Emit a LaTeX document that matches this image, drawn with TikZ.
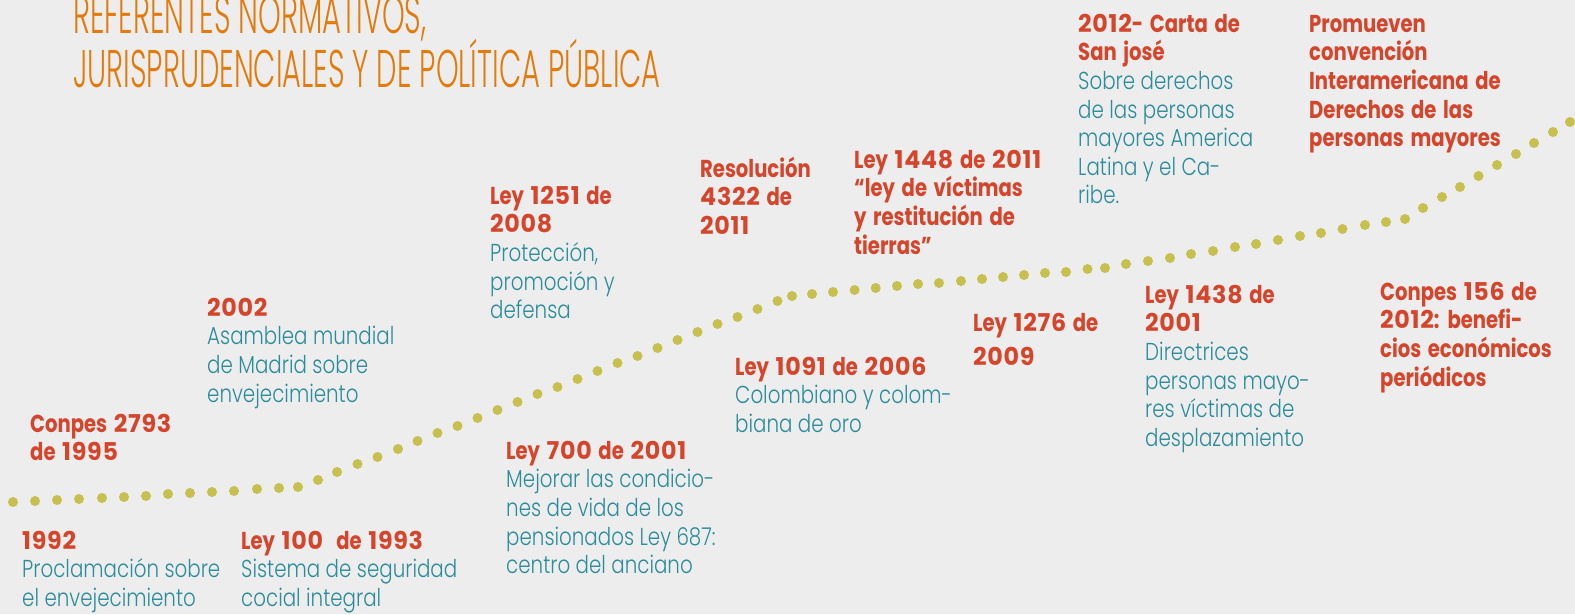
\documentclass[tikz,border=0pt]{standalone}
\usepackage{fontspec}
\newfontfamily\redfont{Poppins Bold}[FakeStretch=0.8,WordSpace=1.6]
\newfontfamily\reddigits{Poppins Bold}[FakeStretch=0.97,LetterSpace=3]
\newfontfamily\tealfont{Poppins Light}[FakeStretch=0.81]
\newfontfamily\titlefont{Poppins Light}[FakeStretch=0.545]
\definecolor{bgc}{HTML}{EDEDED}
\definecolor{redc}{HTML}{D5452B}
\definecolor{tealc}{HTML}{2B8C9C}
\definecolor{orangec}{HTML}{E27B0C}
\definecolor{dotc}{HTML}{C7BF4E}
\newcommand\R{\redfont\color{redc}}
\newcommand\T{\tealfont\color{tealc}}
\newcommand\D[1]{{\reddigits #1}}
\newcommand\FS{\rule{0pt}{22pt}}
\begin{document}
\begin{tikzpicture}[x=1pt,y=-1pt,
  blk/.style={anchor=north west, inner sep=0pt, align=left, font=\fontsize{24.5}{28.6}\selectfont},
  ttl/.style={anchor=base west, inner sep=0pt, text=orangec, font=\titlefont\fontsize{53}{54}\selectfont},
  dotmark/.style={fill=dotc}]
\useasboundingbox (0,0) rectangle (1575,614);
\fill[bgc] (0,0) rectangle (1575,614);
\node[ttl] (t1) at (73,33) {REFERENTES NORMATIVOS,};
\node[ttl] (t2) at (73,87) {JURISPRUDENCIALES Y DE POLÍTICA PÚBLICA};
\foreach \x/\y in {13/502,35/501,57/500,79/499,102/498,124/497,146/496,168/494,190/493,212/492,234/491,257/489,279/488,298/487,
  318/480,337/472,357.5/464,377.5/457,398/449,417.5/441,437.5/433,457.5/426,477.5/418,497.5/410,517.5/402,537.5/394,557.5/387,577.5/379,597.5/371,617.5/363,637.5/356,657.5/348,677.5/340,697.5/332,717.5/324,737.5/317,757.5/309,777.5/301,792/296,
  812/294,833/292,854.6/290,875.7/288,897/286,918/284,939/283,961/281,982/279,1003/277,1024/275,1045/273,1066/272,1087.5/269,1105/268,
  1126/264,1148/261,1170/258,1191/254,1213/251,1235/247,1256/244,1278/240,1300/236,1321/233,1342.5/229,1365/225,1386/222,1405/219,
  1423/208,1442/197,1460/187,1478.5/176,1497/165,1516/154,1534/143,1553/132,1570/122}
  \fill[dotmark] (\x,\y) circle[radius=5pt];
\node[blk] (b1992) at (22,527) {\FS\R\D{1992}\\\T Proclamación sobre\\\T el envejecimiento};
\node[blk] (bley100) at (241,527) {\FS\R Ley \D{100}\ \ de \D{1993}\\\T Sistema de seguridad\\\T cocial integral};
\node[blk] (bconpes) at (30,410) {\FS\R Conpes \D{2793}\\\R de \D{1995}};
\node[blk] (b2002) at (207,294) {\FS\R\D{2002}\\\T Asamblea mundial\\\T de Madrid sobre\\\T envejecimiento};
\node[blk] (b1251) at (490,182) {\FS\R Ley \D{1251} de\\\R\D{2008}\\\T Protección,\\\T promoción y\\\T defensa};
\node[blk] (bres) at (700,155) {\FS\R Resolución\\\R\D{4322} de\\\R\D{2011}};
\node[blk] (b1448) at (854,146) {\FS\R Ley \D{1448} de \D{2011}\\\R “ley de víctimas\\\R y restitución de\\\R tierras”};
\node[blk] (bcarta) at (1078,10) {\FS\R\D{2012}- Carta de\\\R San josé\\\T Sobre derechos\\\T de las personas\\\T mayores America\\\T Latina y el Ca-\\\T ribe.};
\node[blk] (bprom) at (1309,10) {\FS\R Promueven\\\R convención\\\R Interamericana de\\\R Derechos de las\\\R personas mayores};
\node[blk] (b1091) at (735,353) {\FS\R Ley \D{1091} de \D{2006}\\\T Colombiano y colom-\\\T biana de oro};
\node[blk] (b700) at (506,437) {\FS\R Ley \D{700} de \D{2001}\\\T Mejorar las condicio-\\\T nes de vida de los\\\T pensionados Ley 687:\\\T centro del anciano};
\node[blk] (b1276) at (973,309) {\FS\R Ley \D{1276} de\\[5.5pt]\R\D{2009}};
\node[blk] (b1438) at (1145,281) {\FS\R Ley \D{1438} de\\\R\D{2001}\\\T Directrices\\\T personas mayo-\\\T res víctimas de\\\T desplazamiento};
\node[blk] (b156) at (1380,278) {\FS\R Conpes \D{156} de\\\R\D{2012}: benefi-\\\R cios económicos\\\R periódicos};
\end{tikzpicture}
\end{document}
